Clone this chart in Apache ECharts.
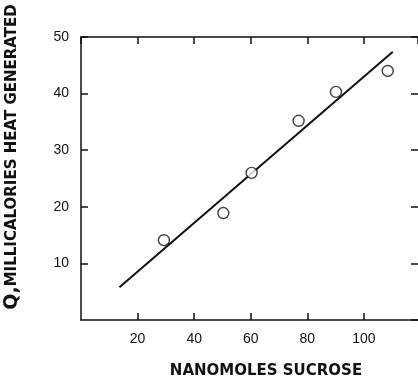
<!DOCTYPE html>
<html>
<head>
<meta charset="utf-8">
<script src="https://cdn.jsdelivr.net/npm/echarts@6/dist/echarts.min.js"></script>
<style>
  html, body { margin: 0; padding: 0; background: #fff; }
  #chart { width: 418px; height: 378px; }
</style>
</head>
<body>
<div id="chart"></div>
<script>
// measured points (nanomoles sucrose, millicalories)
const sucrose = [29.3, 50.3, 60.3, 76.9, 90.1, 108.4];
const heat = [14.1, 18.9, 26.0, 35.2, 40.3, 44.0];
// fitted line endpoints
const fitX = [13.6, 110.2];
const fitY = [5.8, 47.4];

const xTicks = [20, 40, 60, 80, 100];
const yTicks = [10, 20, 30, 40, 50];

const ink = "#111";
const font = "Liberation Sans, Arial, sans-serif";

const points = sucrose.map((x, i) => [x, heat[i]]);
const fitLine = fitX.map((x, i) => [x, fitY[i]]);

const chart = echarts.init(document.getElementById("chart"));

const axisLine = { show: true, onZero: false, lineStyle: { color: ink, width: 1.5 } };
const axisTick = { show: true, inside: true, length: 7, lineStyle: { color: ink, width: 1.5 } };

const baseX = {
  type: "value",
  min: 0,
  max: 119.1,
  interval: 20,
  splitLine: { show: false },
  axisLine: axisLine,
  axisTick: axisTick
};
const baseY = {
  type: "value",
  min: 0,
  max: 50,
  interval: 10,
  splitLine: { show: false },
  axisLine: axisLine,
  axisTick: axisTick
};

chart.setOption({
  animation: false,
  backgroundColor: "#fff",
  // right edge sits just past the canvas, as in the cropped original
  grid: { left: 81, top: 37, width: 341, height: 283, containLabel: false },
  xAxis: [
    Object.assign({}, baseX, {
      position: "bottom",
      axisLabel: {
        color: ink, fontFamily: font, fontSize: 14, margin: 12,
        showMinLabel: false, showMaxLabel: false,
        formatter: v => (xTicks.indexOf(v) >= 0 ? String(v) : "")
      }
    }),
    Object.assign({}, baseX, { position: "top", axisLabel: { show: false } })
  ],
  yAxis: [
    Object.assign({}, baseY, {
      position: "left",
      axisLabel: {
        color: ink, fontFamily: font, fontSize: 14, margin: 12,
        showMinLabel: false,
        formatter: v => (yTicks.indexOf(v) >= 0 ? String(v) : "")
      }
    }),
    Object.assign({}, baseY, {
      position: "right",
      axisLine: { show: false, onZero: false },
      axisLabel: { show: false }
    })
  ],
  graphic: [
    {
      type: "text",
      x: 266,
      y: 371,
      style: {
        text: "NANOMOLES SUCROSE",
        align: "center",
        verticalAlign: "middle",
        fontFamily: "DejaVu Sans",
        fontWeight: "bold",
        fontSize: 15,
        fill: ink
      }
    },
    {
      type: "text",
      x: 12,
      y: 157,
      rotation: Math.PI / 2,
      style: {
        text: "{q|Q,}{t|MILLICALORIES HEAT GENERATED}",
        align: "center",
        verticalAlign: "middle",
        rich: {
          q: { fontFamily: "DejaVu Sans", fontWeight: "bold", fontSize: 19, fill: ink },
          t: { fontFamily: "DejaVu Sans", fontWeight: "bold", fontSize: 15, fill: ink }
        }
      }
    }
  ],
  series: [
    {
      type: "line",
      data: fitLine,
      symbol: "none",
      lineStyle: { color: ink, width: 2 },
      silent: true
    },
    {
      type: "scatter",
      data: points,
      symbol: "circle",
      symbolSize: 11,
      itemStyle: { color: "#fff", borderColor: ink, borderWidth: 1.4 },
      z: 3
    }
  ]
});
</script>
</body>
</html>
